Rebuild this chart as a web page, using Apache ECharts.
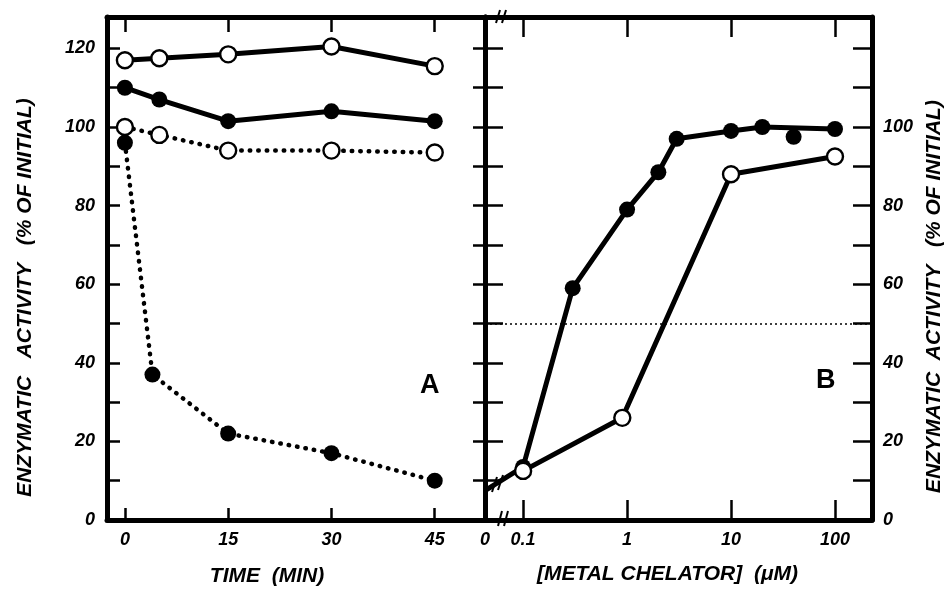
<!DOCTYPE html>
<html><head><meta charset="utf-8">
<script src="https://cdn.jsdelivr.net/npm/echarts@6/dist/echarts.min.js"></script>
<style>html,body{margin:0;padding:0;background:#fff}#c{width:952px;height:592px}</style>
</head><body><div id="c"></div>
<script>
// ---- Panel A data (time course) ----
const timeMin = [0, 5, 15, 30, 45];
const timeFilledDotted = [0, 4, 15, 30, 45];
const openSolidA = [117, 117.5, 118.5, 120.5, 115.5];
const filledSolidA = [110, 107, 101.5, 104, 101.5];
const openDottedA = [100, 98, 94, 94, 93.5];
const filledDottedA = [96, 37, 22, 17, 10];

// ---- Panel B data (metal chelator, log scale) ----
const concFilled = [0.1, 0.3, 1, 2, 3, 10, 20, 100];
const filledB = [13.5, 59, 79, 88.5, 97, 99, 100, 99.5];
const concFilledExtra = [40];
const filledBExtra = [97.5];
const concOpen = [0.1, 0.9, 10, 100];
const openB = [12.5, 26, 88, 92.5];
const zeroConcActivity = 7.5;   // value at 0 µM (drawn at the broken axis start)
const halfActivity = 50;

// ---- tick labels ----
const timeTicks = [0, 15, 30, 45];
const concTicks = [0.1, 1, 10, 100];
const concTickLabels = ['0.1', '1', '10', '100'];
const zeroLabel = '0';
const yLabelsA = [0, 20, 40, 60, 80, 100, 120];
const yLabelsB = [0, 20, 40, 60, 80, 100];

// axis ranges
const timeRange = [-2.6, 52.3];
const concRange = [0.043, 227];   // concRange[0] stands for 0 µM (broken axis)
const yRange = [0, 128];

const FONT = 'Liberation Sans';
const lbl = {color: '#000', fontFamily: FONT, fontStyle: 'italic', fontWeight: 'bold', fontSize: 18};
const ttl = {color: '#000', fontFamily: FONT, fontStyle: 'italic', fontWeight: 'bold', fontSize: 21};
const axisLineS = {show: true, onZero: false, lineStyle: {color: '#000', width: 5}};

function pairs(xs, ys) { return xs.map((x, i) => [x, ys[i]]); }

const chart = echarts.init(document.getElementById('c'), null, {renderer: 'canvas'});

const openItem = {color: '#fff', borderColor: '#000', borderWidth: 2.4, opacity: 1};
const fillItem = {color: '#000', opacity: 1};
const solid = w => ({color: '#000', width: w});
const dotted = {color: '#000', width: 4.5, type: [0.5, 8], cap: 'round'};
const SYM = 16;

const option = {
  animation: false,
  backgroundColor: '#fff',
  grid: [
    {left: 107, top: 17, width: 378, height: 503},
    {left: 485, top: 17, width: 387, height: 503}
  ],
  xAxis: [
    {gridIndex: 0, type: 'value', position: 'bottom', min: timeRange[0], max: timeRange[1],
     axisLine: axisLineS, splitLine: {show: false},
     axisTick: {inside: true, length: 12, lineStyle: {width: 2.5, color: '#000'}, customValues: timeTicks},
     axisLabel: Object.assign({customValues: timeTicks, margin: 11}, lbl),
     name: 'TIME  (MIN)', nameLocation: 'middle', nameGap: 46,
     nameTextStyle: Object.assign({padding: [0, 58, 0, 0]}, ttl)},
    {gridIndex: 0, type: 'value', position: 'top', min: timeRange[0], max: timeRange[1],
     axisLine: axisLineS, splitLine: {show: false},
     axisTick: {inside: true, length: 15, lineStyle: {width: 2.5, color: '#000'}, customValues: timeTicks},
     axisLabel: {show: false}},
    {gridIndex: 1, type: 'log', logBase: 10, position: 'bottom', min: concRange[0], max: concRange[1],
     axisLine: axisLineS, splitLine: {show: false}, minorTick: {show: false},
     axisTick: {inside: true, length: 20, lineStyle: {width: 2.5, color: '#000'}, customValues: concTicks},
     axisLabel: Object.assign({customValues: [concRange[0]].concat(concTicks), margin: 11,
       formatter: v => { if (v < concTicks[0] * 0.7) return zeroLabel;
         let best = 0; concTicks.forEach((t, i) => { if (Math.abs(Math.log10(t) - Math.log10(v)) < Math.abs(Math.log10(concTicks[best]) - Math.log10(v))) best = i; });
         return concTickLabels[best]; }}, lbl),
     name: '[METAL CHELATOR]  (\u03BCM)', nameLocation: 'middle', nameGap: 44,
     nameTextStyle: Object.assign({padding: [0, 22, 0, 0]}, ttl)},
    {gridIndex: 1, type: 'log', logBase: 10, position: 'top', min: concRange[0], max: concRange[1],
     axisLine: axisLineS, splitLine: {show: false}, minorTick: {show: false},
     axisTick: {inside: true, length: 20, lineStyle: {width: 2.5, color: '#000'}, customValues: concTicks},
     axisLabel: {show: false}}
  ],
  yAxis: [
    {gridIndex: 0, type: 'value', position: 'left', min: yRange[0], max: yRange[1], interval: 10,
     axisLine: axisLineS, splitLine: {show: false},
     axisTick: {inside: true, length: 13, lineStyle: {width: 2.5, color: '#000'}},
     axisLabel: Object.assign({margin: 12, formatter: v => yLabelsA.indexOf(v) >= 0 ? String(v) : ''}, lbl),
     name: 'ENZYMATIC   ACTIVITY   (% OF INITIAL)', nameLocation: 'middle', nameRotate: 90, nameGap: 71,
     nameTextStyle: Object.assign({padding: [0, 58, 0, 0]}, ttl)},
    {gridIndex: 0, type: 'value', position: 'right', min: yRange[0], max: yRange[1], interval: 10,
     axisLine: axisLineS, splitLine: {show: false},
     axisTick: {inside: true, length: 12, lineStyle: {width: 2.5, color: '#000'}},
     axisLabel: {show: false}},
    {gridIndex: 1, type: 'value', position: 'left', min: yRange[0], max: yRange[1], interval: 10,
     axisLine: axisLineS, splitLine: {show: false},
     axisTick: {inside: true, length: 18, lineStyle: {width: 2.5, color: '#000'}},
     axisLabel: {show: false}},
    {gridIndex: 1, type: 'value', position: 'right', min: yRange[0], max: yRange[1], interval: 10,
     axisLine: axisLineS, splitLine: {show: false},
     axisTick: {inside: true, length: 19, lineStyle: {width: 2.5, color: '#000'}},
     axisLabel: Object.assign({margin: 11, formatter: v => yLabelsB.indexOf(v) >= 0 ? String(v) : ''}, lbl),
     name: 'ENZYMATIC  ACTIVITY   (% OF INITIAL)', nameLocation: 'middle', nameRotate: 90, nameGap: 52,
     nameTextStyle: Object.assign({padding: [0, 56, 0, 0]}, ttl)}
  ],
  series: [
    {type: 'line', xAxisIndex: 0, yAxisIndex: 0, data: pairs(timeFilledDotted, filledDottedA),
     symbol: 'circle', symbolSize: SYM, itemStyle: fillItem, lineStyle: dotted, silent: true},
    {type: 'line', xAxisIndex: 0, yAxisIndex: 0, data: pairs(timeMin, openDottedA),
     symbol: 'circle', symbolSize: SYM, itemStyle: openItem, lineStyle: dotted, silent: true},
    {type: 'line', xAxisIndex: 0, yAxisIndex: 0, data: pairs(timeMin, filledSolidA),
     symbol: 'circle', symbolSize: SYM, itemStyle: fillItem, lineStyle: solid(5), silent: true},
    {type: 'line', xAxisIndex: 0, yAxisIndex: 0, data: pairs(timeMin, openSolidA),
     symbol: 'circle', symbolSize: SYM, itemStyle: openItem, lineStyle: solid(5), silent: true},

    {type: 'line', xAxisIndex: 2, yAxisIndex: 2,
     data: [{value: [concRange[0], zeroConcActivity], symbol: 'none'}].concat(pairs(concFilled, filledB)),
     symbol: 'circle', symbolSize: SYM, itemStyle: fillItem, lineStyle: solid(5), silent: true,
     markLine: {silent: true, symbol: ['none', 'none'], label: {show: false},
       lineStyle: {color: '#000', width: 1.5, type: [2, 3]}, data: [{yAxis: halfActivity}]}},
    {type: 'scatter', xAxisIndex: 2, yAxisIndex: 2, data: pairs(concFilledExtra, filledBExtra),
     symbol: 'circle', symbolSize: SYM, itemStyle: fillItem, silent: true},
    {type: 'line', xAxisIndex: 2, yAxisIndex: 2, data: pairs(concOpen, openB),
     symbol: 'circle', symbolSize: SYM, itemStyle: openItem, lineStyle: solid(5), silent: true}
  ],
  graphic: [
    {type: 'text', left: 420, top: 372, z: 10, style: {text: 'A', fill: '#000', font: 'bold 27px "Liberation Sans"'}},
    {type: 'text', left: 816, top: 367, z: 10, style: {text: 'B', fill: '#000', font: 'bold 27px "Liberation Sans"'}},
    // axis-break marks
    {type: 'line', z: 10, shape: {x1: 496, y1: 23, x2: 500, y2: 10}, style: {stroke: '#000', lineWidth: 2}},
    {type: 'line', z: 10, shape: {x1: 502, y1: 23, x2: 506, y2: 10}, style: {stroke: '#000', lineWidth: 2}},
    {type: 'line', z: 10, shape: {x1: 498, y1: 526, x2: 502, y2: 511}, style: {stroke: '#000', lineWidth: 2}},
    {type: 'line', z: 10, shape: {x1: 504, y1: 526, x2: 508, y2: 511}, style: {stroke: '#000', lineWidth: 2}},
    {type: 'line', z: 10, shape: {x1: 492, y1: 492, x2: 497, y2: 477}, style: {stroke: '#000', lineWidth: 2}},
    {type: 'line', z: 10, shape: {x1: 498, y1: 490, x2: 503, y2: 475}, style: {stroke: '#000', lineWidth: 2}}
  ]
};
chart.setOption(option);
</script>
</body></html>
